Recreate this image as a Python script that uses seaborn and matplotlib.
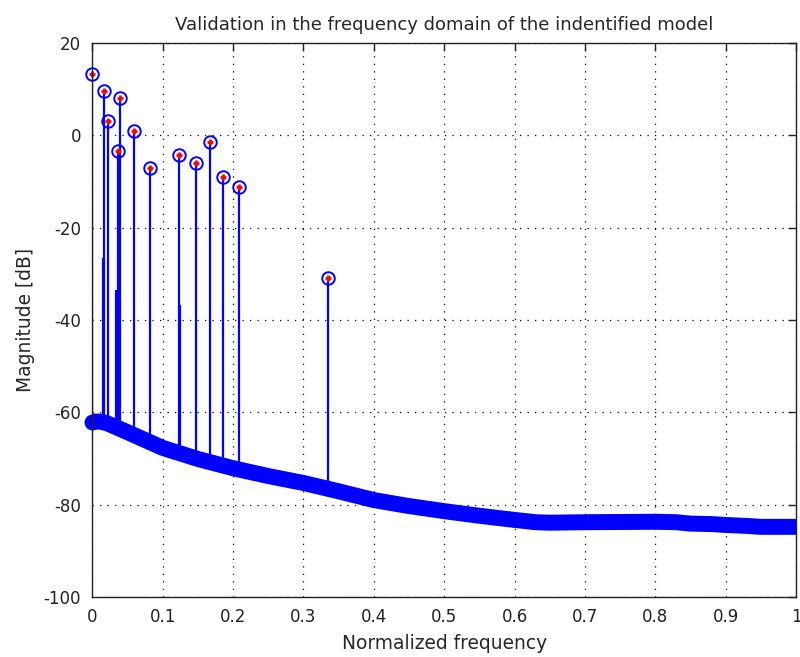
import matplotlib
matplotlib.use("Agg")
import matplotlib.pyplot as plt
import seaborn as sns
import pandas as pd

# Baseline (noise floor) spectrum
base_freq = [0.0, 0.01, 0.02, 0.05, 0.10, 0.15, 0.20, 0.25, 0.30, 0.35, 0.40, 0.45,
             0.50, 0.55, 0.60, 0.63, 0.65, 0.70, 0.80, 0.83, 0.85, 0.88, 0.90, 0.93, 0.95, 1.0]
base_db = [-62.0, -62.0, -62.3, -64.3, -67.7, -70.1, -72.1, -73.8, -75.3, -77.1, -79.0, -80.3,
           -81.4, -82.4, -83.3, -83.8, -83.9, -83.8, -83.7, -83.8, -84.1, -84.2, -84.4, -84.6, -84.8, -84.8]

# Identified peaks
peak_freq = [0.0, 0.017, 0.022, 0.036, 0.040, 0.059, 0.082, 0.123, 0.148, 0.167, 0.186, 0.209, 0.335]
peak_db = [13.3, 9.5, 3.2, -3.5, 8.1, 1.0, -7.0, -4.2, -5.9, -1.5, -9.1, -11.2, -30.9]
peak_floor = [-62.0, -62.2, -62.4, -63.1, -63.4, -64.8, -66.5, -68.7, -70.0, -70.8, -71.6, -72.4, -76.6]

# Short spikes without markers
spike_freq = [0.0156, 0.0337, 0.125]
spike_db = [-26.6, -33.5, -36.7]
spike_floor = [-62.2, -63.1, -68.8]

title = "Validation in the frequency domain of the indentified model"
xlabel = "Normalized frequency"
ylabel = "Magnitude [dB]"

sns.set_style("white")
plt.rcParams["font.family"] = ["DejaVu Sans"]

fig = plt.figure(figsize=(8.0, 6.57), dpi=100)
ax = fig.add_axes([0.1154, 0.0913, 0.8796, 0.8433])

blue = "#0000ff"

base_df = pd.DataFrame({"f": base_freq, "db": base_db})

# stems
ax.vlines(peak_freq, peak_floor, peak_db, colors=blue, linewidth=1.6, zorder=3)
ax.vlines(spike_freq, spike_floor, spike_db, colors=blue, linewidth=1.6, zorder=3)

# thick band for the marker-dense noise floor
sns.lineplot(data=base_df, x="f", y="db", ax=ax, color=blue, linewidth=11.5,
             solid_capstyle="butt", solid_joinstyle="round", zorder=4, clip_on=False,
             estimator=None, sort=False)
# rounded start of the band (first marker sticks out past the axis)
ax.plot(base_freq[:1], base_db[:1], linestyle="none", marker="o", markersize=11.5,
        color=blue, markeredgewidth=0, zorder=4, clip_on=False)

# peak markers: blue open circles and red plus
ax.plot(peak_freq, peak_db, linestyle="none", marker="o", markersize=9,
        markerfacecolor="none", markeredgecolor=blue, markeredgewidth=1.4,
        zorder=5, clip_on=False)
ax.plot(peak_freq, peak_db, linestyle="none", marker="+", markersize=5,
        color="red", markeredgewidth=2.0, zorder=6, clip_on=False)

ax.set_xlim(0, 1)
ax.set_ylim(-100, 20)
ax.set_xticks([0, 0.1, 0.2, 0.3, 0.4, 0.5, 0.6, 0.7, 0.8, 0.9, 1])
ax.set_xticklabels(["0", "0.1", "0.2", "0.3", "0.4", "0.5", "0.6", "0.7", "0.8", "0.9", "1"])
ax.set_yticks([-100, -80, -60, -40, -20, 0, 20])
ax.set_yticklabels(["-100", "-80", "-60", "-40", "-20", "0", "20"])

ax.grid(True, color="black", linestyle=(0, (1, 5)), linewidth=0.9)
ax.set_axisbelow(True)
ax.tick_params(direction="in", length=6, width=1, top=True, right=True,
               labelsize=12, colors="#222222", pad=8)
for s in ax.spines.values():
    s.set_color("#222222")
    s.set_linewidth(1.0)
    s.set_zorder(7)

ax.set_title(title, fontsize=13, pad=9)
ax.set_xlabel(xlabel, fontsize=13.4, labelpad=6)
ax.set_ylabel(ylabel, fontsize=13.4, labelpad=6)
if ax.get_legend():
    ax.get_legend().remove()

fig.savefig("out.png", dpi=100)
